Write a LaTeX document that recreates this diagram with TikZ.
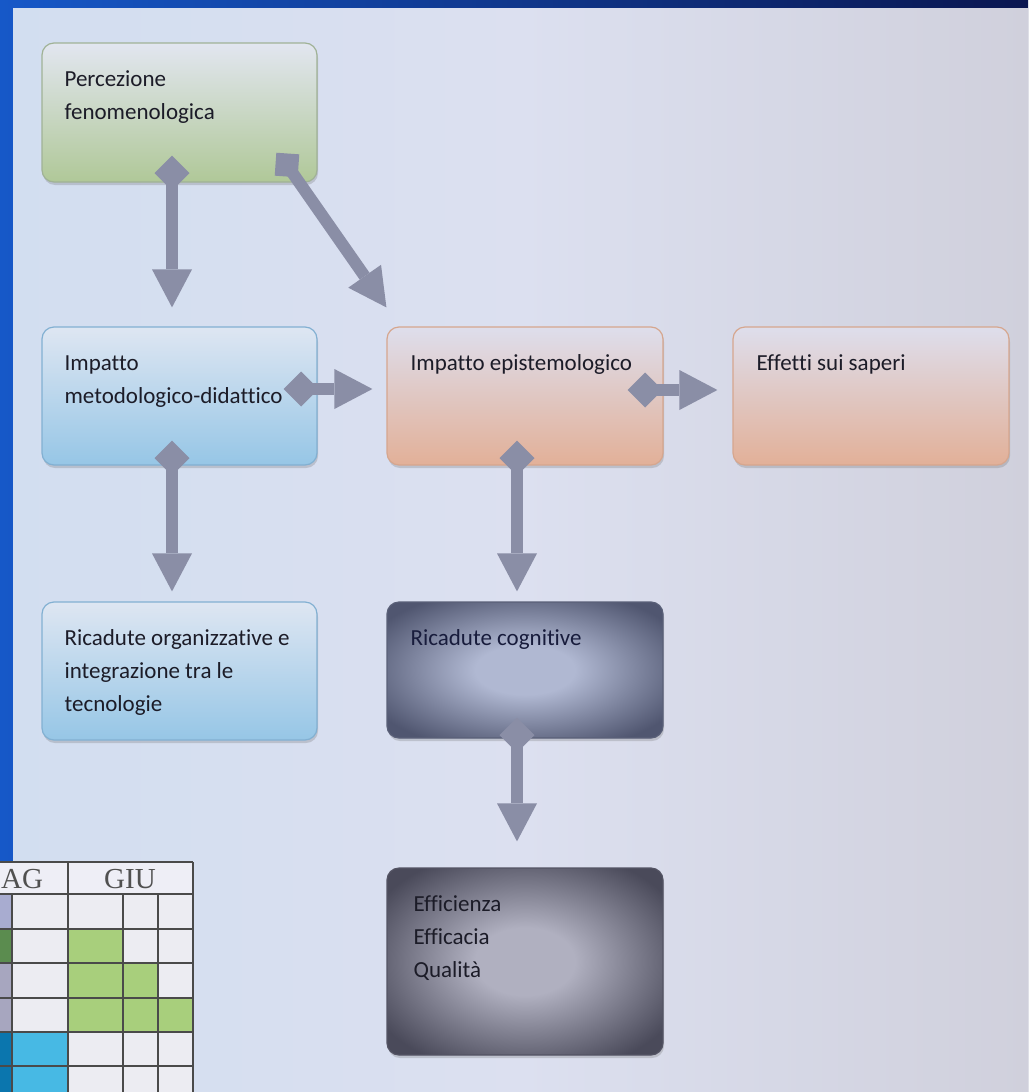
\documentclass[tikz,border=0pt]{standalone}
\usepackage{fontspec}
\setmainfont[Ligatures={NoCommon}]{Carlito}
\newfontfamily\tabfont{Liberation Serif}
\usetikzlibrary{arrows.meta,shadows,calc}

\definecolor{bandL}{RGB}{22,88,200}
\definecolor{bandR}{RGB}{10,22,80}
\definecolor{panelL}{RGB}{210,222,240}
\definecolor{panelM}{RGB}{220,224,240}
\definecolor{panelR}{RGB}{208,208,220}
\definecolor{arrowgray}{RGB}{138,142,166}
\definecolor{textdark}{RGB}{28,28,40}
\definecolor{textnavy}{RGB}{24,28,60}
\definecolor{pftop}{RGB}{226,230,240}
\definecolor{pfbot}{RGB}{176,200,152}
\definecolor{pfline}{RGB}{160,178,150}
\definecolor{bltop}{RGB}{222,230,242}
\definecolor{blbot}{RGB}{150,198,230}
\definecolor{blline}{RGB}{130,176,210}
\definecolor{ortop}{RGB}{222,222,236}
\definecolor{orbot}{RGB}{226,176,152}
\definecolor{orline}{RGB}{214,166,142}
\definecolor{cgin}{RGB}{176,184,210}
\definecolor{cgout}{RGB}{80,86,112}
\definecolor{cgline}{RGB}{90,96,120}
\definecolor{efin}{RGB}{176,176,192}
\definecolor{efout}{RGB}{74,74,90}
\definecolor{efline}{RGB}{84,84,100}
\definecolor{cellbg}{RGB}{236,236,242}
\definecolor{hdrbg}{RGB}{238,238,246}
\definecolor{gridc}{RGB}{74,74,74}
\definecolor{lav}{RGB}{168,172,208}
\definecolor{dgreen}{RGB}{91,140,79}
\definecolor{gray2}{RGB}{167,166,191}
\definecolor{dblue}{RGB}{11,118,174}
\definecolor{cyanc}{RGB}{71,185,228}
\definecolor{lgreen}{RGB}{168,207,124}
\definecolor{tabtext}{RGB}{80,80,80}

\pgfdeclareradialshading{cogshade}{\pgfpoint{0bp}{0bp}}{color(0bp)=(cgin); color(9bp)=(cgin); color(31bp)=(cgout); color(50bp)=(cgout)}
\pgfdeclareradialshading{effshade}{\pgfpoint{0bp}{0bp}}{color(0bp)=(efin); color(9bp)=(efin); color(31bp)=(efout); color(50bp)=(efout)}

\tikzset{
  box/.style={rounded corners=12pt, minimum width=275pt, minimum height=138pt,
    line width=1.2pt, inner sep=0pt,
    drop shadow={shadow xshift=1pt, shadow yshift=-3pt, opacity=0.25, fill=black!60}},
  greenbox/.style={box, draw=pfline, top color=pftop, bottom color=pfbot},
  bluebox/.style={box, draw=blline, top color=bltop, bottom color=blbot},
  orangebox/.style={box, draw=orline, top color=ortop, bottom color=orbot},
  cogbox/.style={box, draw=cgline, shading=cogshade},
  effbox/.style={box, draw=efline, shading=effshade},
  lbl/.style={anchor=north west, inner sep=0pt, align=left,
    font=\fontsize{23}{33}\selectfont, text=textdark},
  conn/.style={draw=arrowgray, line width=12pt,
    {Diamond[length=35pt,width=35pt,line width=0pt]}-{Triangle[length=38pt,width=40pt,line width=0pt]}},
  plainconn/.style={draw=arrowgray, line width=12pt,
    -{Triangle[length=38pt,width=40pt,line width=0pt]}},
  sqtail/.style={fill=arrowgray, minimum size=23pt, inner sep=0pt, rotate=-4},
  gridline/.style={draw=gridc, line width=1.6pt},
  tabtxt/.style={inner sep=0pt, font=\tabfont\fontsize{29}{32}\selectfont, text=tabtext},
}

\begin{document}
\begin{tikzpicture}[x=1pt,y=-1pt]
\useasboundingbox (0,0) rectangle (1028,1092);
\clip (0,0) rectangle (1028,1092);

% background
\shade[left color=bandL, right color=bandR] (0,0) rectangle (1028,1092);
\shade[left color=panelL, right color=panelR, middle color=panelM] (13,8) rectangle (1028,1092);

% boxes
\node[greenbox, minimum height=139pt] (pf) at (179.5,112.5) {};
\node[bluebox] (imd) at (179.5,396) {};
\node[orangebox, minimum width=276pt] (iep) at (525,396) {};
\node[orangebox, minimum width=276pt] (eff) at (871,396) {};
\node[bluebox] (rorg) at (179.5,671) {};
\node[cogbox, minimum width=276pt, minimum height=136pt] (rcog) at (525,670) {};
\node[effbox, minimum width=276pt, minimum height=187pt] (eeq) at (525,961.5) {};

% labels
\node[lbl] (tpf) at ([shift={(23,21)}]pf.north west) {\strut Percezione\\fenomenologica};
\node[lbl] (timd) at ([shift={(23,21)}]imd.north west) {\strut Impatto\\metodologico-didattico};
\node[lbl] (tiep) at ([shift={(24,21)}]iep.north west) {\strut Impatto epistemologico};
\node[lbl] (teff) at ([shift={(24,21)}]eff.north west) {\strut Effetti sui saperi};
\node[lbl] (trorg) at ([shift={(23,21)}]rorg.north west) {\strut Ricadute organizzative e\\integrazione tra le\\tecnologie};
\node[lbl, text=textnavy] (trcog) at ([shift={(24,21)}]rcog.north west) {\strut Ricadute cognitive};
\node[lbl] (teeq) at ([shift={(27,21)}]eeq.north west) {\strut Efficienza\\Efficacia\\Qualità};

% connectors
\node[sqtail] (sq) at (287,165) {};
\draw[conn] ([shift={(-7.5,-27)}]pf.south) -- ([shift={(-7.5,-19)}]imd.north);
\draw[plainconn] (sq.center) -- ([shift={(0,-19)}]iep.north west);
\draw[conn] ([shift={(-34,-7)}]imd.east) -- ([shift={(-14,-7)}]iep.west);
\draw[conn] ([shift={(-36,-6)}]iep.east) -- ([shift={(-15,-6)}]eff.west);
\draw[conn] ([shift={(-7.5,-25)}]imd.south) -- ([shift={(-7.5,-10)}]rorg.north);
\draw[conn] ([shift={(-8,-25)}]iep.south) -- ([shift={(-8,-10)}]rcog.north);
\draw[conn] ([shift={(-8,-21)}]rcog.south) -- ([shift={(-8,-26)}]eeq.north);

% table (bottom left)
\fill[cellbg] (0,862) rectangle (193,1092);
\fill[hdrbg] (0,862) rectangle (193,894);
\fill[lav] (0,894) rectangle (12,929);
\fill[dgreen] (0,929) rectangle (12,963);
\fill[gray2] (0,963) rectangle (12,1032);
\fill[dblue] (0,1032) rectangle (12,1092);
\fill[cyanc] (12,1032) rectangle (68,1092);
\fill[lgreen] (68,929) rectangle (123,1032);
\fill[lgreen] (123,963) rectangle (158,1032);
\fill[lgreen] (158,998) rectangle (193,1032);
\foreach \yy in {862,894,929,963,998,1032,1066}
  \draw[gridline] (0,\yy) -- (193,\yy);
\draw[gridline] (12,894) -- (12,1092);
\draw[gridline] (68,862) -- (68,1092);
\draw[gridline] (123,894) -- (123,1092);
\draw[gridline] (158,894) -- (158,1092);
\draw[gridline] (193,862) -- (193,1092);
\node[tabtxt, anchor=west] (ag) at (1,879) {AG};
\node[tabtxt] (giu) at (130,879) {GIU};
\end{tikzpicture}
\end{document}
